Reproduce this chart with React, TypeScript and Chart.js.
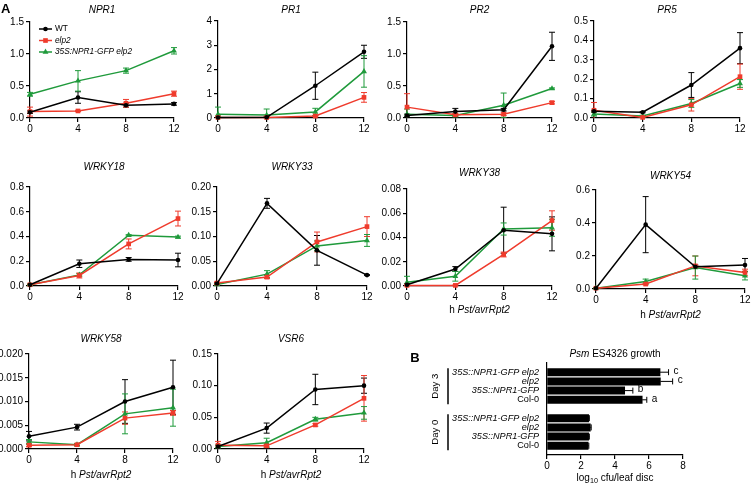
import React, { useEffect, useRef } from "react";
import { Chart, registerables } from "chart.js";
Chart.register(...registerables);

const FONT = '"Liberation Sans", Arial, Helvetica, sans-serif';

// ---------- Panel A data ----------
const HOURS = [0, 4, 8, 12];
const SERIES_LABELS = ["WT", "elp2", "35S:NPR1-GFP elp2"];

const NPR1_WT = [0.09, 0.32, 0.2, 0.22];
const NPR1_WT_ERR = [0.02, 0.09, 0.03, 0.02];
const NPR1_ELP2 = [0.1, 0.11, 0.23, 0.38];
const NPR1_ELP2_ERR = [0.07, 0.01, 0.06, 0.04];
const NPR1_OX = [0.37, 0.58, 0.74, 1.05];
const NPR1_OX_ERR = [0.03, 0.16, 0.04, 0.05];
const NPR1_TICKS = [0, 0.5, 1.0, 1.5];

const PR1_WT = [0.02, 0.03, 1.33, 2.73];
const PR1_WT_ERR = [0.02, 0.02, 0.56, 0.27];
const PR1_ELP2 = [0.02, 0.02, 0.08, 0.85];
const PR1_ELP2_ERR = [0.02, 0.02, 0.03, 0.2];
const PR1_OX = [0.15, 0.12, 0.25, 1.92];
const PR1_OX_ERR = [0.3, 0.25, 0.15, 0.65];
const PR1_TICKS = [0, 1, 2, 3, 4];

const PR2_WT = [0.04, 0.1, 0.13, 1.12];
const PR2_WT_ERR = [0.02, 0.05, 0.02, 0.22];
const PR2_ELP2 = [0.17, 0.05, 0.06, 0.24];
const PR2_ELP2_ERR = [0.21, 0.02, 0.02, 0.02];
const PR2_OX = [0.06, 0.04, 0.2, 0.46];
const PR2_OX_ERR = [0.08, 0.02, 0.19, 0.01];
const PR2_TICKS = [0, 0.5, 1.0, 1.5];

const PR5_WT = [0.035, 0.03, 0.17, 0.36];
const PR5_WT_ERR = [0.005, 0.003, 0.064, 0.08];
const PR5_ELP2 = [0.04, 0.003, 0.068, 0.213];
const PR5_ELP2_ERR = [0.04, 0.003, 0.032, 0.065];
const PR5_OX = [0.02, 0.01, 0.075, 0.178];
const PR5_OX_ERR = [0.01, 0.004, 0.02, 0.02];
const PR5_TICKS = [0, 0.1, 0.2, 0.3, 0.4, 0.5];

const WRKY18_WT = [0.01, 0.18, 0.215, 0.21];
const WRKY18_WT_ERR = [0.005, 0.03, 0.015, 0.055];
const WRKY18_ELP2 = [0.01, 0.085, 0.34, 0.545];
const WRKY18_ELP2_ERR = [0.005, 0.02, 0.04, 0.06];
const WRKY18_OX = [0.01, 0.09, 0.41, 0.395];
const WRKY18_OX_ERR = [0.005, 0.01, 0.005, 0.008];
const WRKY18_TICKS = [0, 0.2, 0.4, 0.6, 0.8];

const WRKY33_WT = [0.005, 0.167, 0.072, 0.022];
const WRKY33_WT_ERR = [0.002, 0.01, 0.03, 0.001];
const WRKY33_ELP2 = [0.006, 0.018, 0.089, 0.12];
const WRKY33_ELP2_ERR = [0.002, 0.003, 0.02, 0.02];
const WRKY33_OX = [0.003, 0.024, 0.081, 0.092];
const WRKY33_OX_ERR = [0.002, 0.007, 0.01, 0.012];
const WRKY33_TICKS = [0, 0.05, 0.1, 0.15, 0.2];

const WRKY38_WT = [0.001, 0.014, 0.046, 0.043];
const WRKY38_WT_ERR = [0.001, 0.002, 0.019, 0.014];
const WRKY38_ELP2 = [0.0005, 0.0005, 0.026, 0.054];
const WRKY38_ELP2_ERR = [0.0003, 0.0003, 0.002, 0.008];
const WRKY38_OX = [0.003, 0.008, 0.047, 0.048];
const WRKY38_OX_ERR = [0.005, 0.004, 0.005, 0.007];
const WRKY38_TICKS = [0, 0.02, 0.04, 0.06, 0.08];

const WRKY54_WT = [0.005, 0.39, 0.135, 0.145];
const WRKY54_WT_ERR = [0.003, 0.17, 0.01, 0.04];
const WRKY54_ELP2 = [0.005, 0.03, 0.14, 0.1];
const WRKY54_ELP2_ERR = [0.003, 0.005, 0.06, 0.02];
const WRKY54_OX = [0.005, 0.045, 0.13, 0.08];
const WRKY54_OX_ERR = [0.003, 0.015, 0.07, 0.025];
const WRKY54_TICKS = [0, 0.2, 0.4, 0.6];

const WRKY58_WT = [0.0027, 0.0046, 0.01, 0.013];
const WRKY58_WT_ERR = [0.001, 0.0006, 0.0046, 0.0057];
const WRKY58_ELP2 = [0.0008, 0.0009, 0.0065, 0.0076];
const WRKY58_ELP2_ERR = [0.0003, 0.0002, 0.0013, 0.0005];
const WRKY58_OX = [0.0015, 0.0009, 0.0074, 0.0087];
const WRKY58_OX_ERR = [0.0005, 0.0002, 0.0042, 0.0039];
const WRKY58_TICKS = [0, 0.005, 0.01, 0.015, 0.02];

const VSR6_WT = [0.004, 0.033, 0.094, 0.1];
const VSR6_WT_ERR = [0.002, 0.008, 0.024, 0.012];
const VSR6_ELP2 = [0.006, 0.005, 0.038, 0.08];
const VSR6_ELP2_ERR = [0.006, 0.002, 0.002, 0.036];
const VSR6_OX = [0.004, 0.01, 0.047, 0.057];
const VSR6_OX_ERR = [0.002, 0.007, 0.003, 0.01];
const VSR6_TICKS = [0, 0.05, 0.1, 0.15];

// ---------- Panel B data ----------
const DAY3_GENOTYPES = ["35S::NPR1-GFP elp2", "elp2", "35S::NPR1-GFP", "Col-0"];
const DAY0_GENOTYPES = ["35S::NPR1-GFP elp2", "elp2", "35S::NPR1-GFP", "Col-0"];
const DAY3_GROWTH = [6.65, 6.67, 4.57, 5.6];
const DAY3_GROWTH_ERR = [0.5, 0.72, 0.48, 0.27];
const DAY3_LETTERS = ["c", "c", "b", "a"];
const DAY0_GROWTH = [2.45, 2.55, 2.45, 2.42];
const DAY0_GROWTH_ERR = [0.04, 0.05, 0.04, 0.04];
const GROWTH_TICKS = [0, 2, 4, 6, 8];

// ---------- styling ----------
const COLORS = ["#000000", "#ef3b2c", "#1f9a3b"];
const POINT_STYLES = ["circle", "rect", "triangle"];
const POINT_RADII = [2.3, 3.3, 3.4];

const PANELS: any[] = [
  { title: "NPR1", ticks: NPR1_TICKS, dec: 1, s: [[NPR1_WT, NPR1_WT_ERR], [NPR1_ELP2, NPR1_ELP2_ERR], [NPR1_OX, NPR1_OX_ERR]] },
  { title: "PR1", ticks: PR1_TICKS, dec: 0, s: [[PR1_WT, PR1_WT_ERR], [PR1_ELP2, PR1_ELP2_ERR], [PR1_OX, PR1_OX_ERR]] },
  { title: "PR2", ticks: PR2_TICKS, dec: 1, s: [[PR2_WT, PR2_WT_ERR], [PR2_ELP2, PR2_ELP2_ERR], [PR2_OX, PR2_OX_ERR]] },
  { title: "PR5", ticks: PR5_TICKS, dec: 1, s: [[PR5_WT, PR5_WT_ERR], [PR5_ELP2, PR5_ELP2_ERR], [PR5_OX, PR5_OX_ERR]] },
  { title: "WRKY18", ticks: WRKY18_TICKS, dec: 1, s: [[WRKY18_WT, WRKY18_WT_ERR], [WRKY18_ELP2, WRKY18_ELP2_ERR], [WRKY18_OX, WRKY18_OX_ERR]] },
  { title: "WRKY33", ticks: WRKY33_TICKS, dec: 2, s: [[WRKY33_WT, WRKY33_WT_ERR], [WRKY33_ELP2, WRKY33_ELP2_ERR], [WRKY33_OX, WRKY33_OX_ERR]] },
  { title: "WRKY38", ticks: WRKY38_TICKS, dec: 2, s: [[WRKY38_WT, WRKY38_WT_ERR], [WRKY38_ELP2, WRKY38_ELP2_ERR], [WRKY38_OX, WRKY38_OX_ERR]] },
  { title: "WRKY54", ticks: WRKY54_TICKS, dec: 1, s: [[WRKY54_WT, WRKY54_WT_ERR], [WRKY54_ELP2, WRKY54_ELP2_ERR], [WRKY54_OX, WRKY54_OX_ERR]] },
  { title: "WRKY58", ticks: WRKY58_TICKS, dec: 3, s: [[WRKY58_WT, WRKY58_WT_ERR], [WRKY58_ELP2, WRKY58_ELP2_ERR], [WRKY58_OX, WRKY58_OX_ERR]] },
  { title: "VSR6", ticks: VSR6_TICKS, dec: 2, s: [[VSR6_WT, VSR6_WT_ERR], [VSR6_ELP2, VSR6_ELP2_ERR], [VSR6_OX, VSR6_OX_ERR]] },
];

// plot-area layout of each panel (page pixels)
const LAYOUT: any[] = [
  { l: 30, t: 22, r: 174, b: 118, titleY: 10 },
  { l: 218, t: 21, r: 364, b: 118, titleY: 10 },
  { l: 407, t: 22, r: 552, b: 118, titleY: 10 },
  { l: 594, t: 21, r: 740, b: 118, titleY: 10 },
  { l: 30, t: 187, r: 178, b: 286, titleY: 167 },
  { l: 217, t: 187, r: 367, b: 286, titleY: 167 },
  { l: 407, t: 189, r: 552, b: 286, titleY: 173, xlabelY: 310 },
  { l: 596, t: 190, r: 745, b: 289, titleY: 176, xlabelY: 315 },
  { l: 29, t: 354, r: 173, b: 449, titleY: 339, xlabelY: 475 },
  { l: 218, t: 354, r: 364, b: 449, titleY: 339, xlabelY: 475 },
];
const BAR_AREA = { l: 547, t: 363, r: 683, b: 455 };
const BAR_BOX = { x: 400, y: 342, w: 351, h: 144 };

function boxFor(a: any) {
  const x = a.l - 34;
  const y = a.titleY - 10;
  const w = a.r + 10 - x;
  const h = (a.xlabelY ? a.xlabelY + 9 : a.b + 20) - y;
  return { x, y, w, h };
}

// ---------- drawing helpers ----------
function fontStr(seg: any, size: number) {
  return `${seg.it ? "italic " : ""}${seg.bold ? "bold " : ""}${seg.sub ? size * 0.72 : size}px ${FONT}`;
}
function drawRich(ctx: any, item: any, x: number, y: number) {
  const size = item.size;
  const widths = item.segs.map((s: any) => {
    ctx.font = fontStr(s, size);
    return ctx.measureText(s.t).width;
  });
  const total = widths.reduce((a: number, b: number) => a + b, 0);
  let start = item.align === "left" ? 0 : item.align === "right" ? -total : -total / 2;
  ctx.save();
  ctx.translate(x, y);
  if (item.rot) ctx.rotate(-Math.PI / 2);
  ctx.textBaseline = "middle";
  ctx.textAlign = "left";
  ctx.fillStyle = "#000";
  item.segs.forEach((s: any, i: number) => {
    ctx.font = fontStr(s, size);
    ctx.fillText(s.t, start, s.sub ? size * 0.32 : 0);
    start += widths[i];
  });
  ctx.restore();
}
function textPlugin(items: any[], area: any) {
  return {
    id: "richText",
    afterDraw(chart: any) {
      const ca = chart.chartArea;
      items.forEach((it) => {
        const x = it.cx ? (ca.left + ca.right) / 2 : ca.left + (it.x - area.l);
        const y = ca.top + (it.y - area.t);
        drawRich(chart.ctx, it, x, y);
      });
    },
  };
}
function drawMarker(ctx: any, style: string, x: number, y: number, r: number) {
  ctx.beginPath();
  if (style === "circle") {
    ctx.arc(x, y, r, 0, Math.PI * 2);
  } else if (style === "rect") {
    const s = r * Math.SQRT1_2;
    ctx.rect(x - s, y - s, 2 * s, 2 * s);
  } else {
    let rad = 0;
    ctx.moveTo(x + Math.sin(rad) * r, y - Math.cos(rad) * r);
    rad += (2 * Math.PI) / 3;
    ctx.lineTo(x + Math.sin(rad) * r, y - Math.cos(rad) * r);
    rad += (2 * Math.PI) / 3;
    ctx.lineTo(x + Math.sin(rad) * r, y - Math.cos(rad) * r);
    ctx.closePath();
  }
  ctx.fill();
}
const lineErrorPlugin = {
  id: "lineErrors",
  beforeDatasetsDraw(chart: any) {
    const { ctx, scales } = chart;
    const xs = scales.x, ys = scales.y;
    chart.data.datasets.forEach((ds: any) => {
      if (!ds.errors) return;
      ctx.save();
      ctx.strokeStyle = ds.borderColor;
      ctx.lineWidth = 1;
      ds.data.forEach((pt: any, i: number) => {
        const e = ds.errors[i];
        if (!e) return;
        const px = xs.getPixelForValue(pt.x);
        const yHi = ys.getPixelForValue(pt.y + e);
        const yLo = ys.getPixelForValue(Math.max(pt.y - e, ys.min));
        ctx.beginPath();
        ctx.moveTo(px, yHi);
        ctx.lineTo(px, yLo);
        ctx.moveTo(px - 3, yHi);
        ctx.lineTo(px + 3, yHi);
        if (pt.y - e > ys.min) {
          ctx.moveTo(px - 3, yLo);
          ctx.lineTo(px + 3, yLo);
        }
        ctx.stroke();
      });
      ctx.restore();
    });
  },
};
function legendPlugin() {
  return {
    id: "seriesLegend",
    afterDraw(chart: any) {
      const { ctx, chartArea: ca } = chart;
      SERIES_LABELS.forEach((lab, k) => {
        const y = ca.top + 7 + k * 11.5;
        ctx.save();
        ctx.strokeStyle = COLORS[k];
        ctx.fillStyle = COLORS[k];
        ctx.lineWidth = 1.5;
        ctx.beginPath();
        ctx.moveTo(ca.left + 9, y);
        ctx.lineTo(ca.left + 22, y);
        ctx.stroke();
        drawMarker(ctx, POINT_STYLES[k], ca.left + 15.5, y, POINT_RADII[k]);
        ctx.restore();
        drawRich(ctx, { segs: [{ t: lab, it: k > 0 }], size: 8.3, align: "left" }, ca.left + 25, y);
      });
    },
  };
}

function makeLineChart(canvas: HTMLCanvasElement, p: any, a: any, box: any, idx: number) {
  const padTop = a.t - box.y;
  const padRight = box.x + box.w - a.r;
  const yW = a.l - box.x;
  const xH = box.y + box.h - a.b;
  const datasets = p.s.map((pair: any, k: number) => ({
    label: SERIES_LABELS[k],
    data: HOURS.map((h, i) => ({ x: h, y: pair[0][i] })),
    errors: pair[1],
    borderColor: COLORS[k],
    backgroundColor: COLORS[k],
    pointBackgroundColor: COLORS[k],
    pointBorderColor: COLORS[k],
    pointBorderWidth: 0,
    pointStyle: POINT_STYLES[k],
    pointRadius: POINT_RADII[k],
    borderWidth: 1.5,
    tension: 0,
    clip: false,
  }));
  const texts: any[] = [{ segs: [{ t: p.title, it: true }], size: 10, cx: true, y: a.titleY }];
  if (a.xlabelY) {
    texts.push({ segs: [{ t: "h " }, { t: "Pst/avrRpt2", it: true }], size: 10, cx: true, y: a.xlabelY });
  }
  if (idx === 0) texts.push({ segs: [{ t: "A", bold: true }], size: 13, align: "left", x: 1, y: 9 });
  const plugins: any[] = [lineErrorPlugin, textPlugin(texts, a)];
  if (idx === 0) plugins.push(legendPlugin());
  const tickFont = { family: FONT, size: 10 };
  const axisCommon = {
    grid: { drawOnChartArea: false, drawTicks: true, tickLength: 4, color: "#000", lineWidth: 1.2 },
    border: { display: true, color: "#000", width: 1.2 },
  };
  return new Chart(canvas, {
    type: "line",
    data: { datasets },
    plugins,
    options: {
      animation: false,
      responsive: false,
      devicePixelRatio: 1,
      events: [],
      layout: { padding: { left: 0, top: padTop, right: padRight, bottom: 0 } },
      plugins: { legend: { display: false }, tooltip: { enabled: false }, title: { display: false } },
      scales: {
        x: {
          type: "linear",
          min: HOURS[0],
          max: HOURS[HOURS.length - 1],
          afterBuildTicks: (s: any) => { s.ticks = HOURS.map((v) => ({ value: v })); },
          afterFit: (s: any) => { s.height = xH; },
          ticks: { font: tickFont, color: "#000", padding: 1, maxRotation: 0, autoSkip: false, callback: (v: any) => String(v) },
          ...axisCommon,
        },
        y: {
          type: "linear",
          min: p.ticks[0],
          max: p.ticks[p.ticks.length - 1],
          afterBuildTicks: (s: any) => { s.ticks = p.ticks.map((v: number) => ({ value: v })); },
          afterFit: (s: any) => { s.width = yW; },
          ticks: { font: tickFont, color: "#000", padding: 2, autoSkip: false, callback: (v: any) => Number(v).toFixed(p.dec) },
          ...axisCommon,
        },
      },
    } as any,
  } as any);
}

function makeBarChart(canvas: HTMLCanvasElement) {
  const a = BAR_AREA, box = BAR_BOX;
  const categories = ["", ...DAY3_GENOTYPES, "", ...DAY0_GENOTYPES, ""];
  const values = [null, ...DAY3_GROWTH, null, ...DAY0_GROWTH, null];
  const errors = [null, ...DAY3_GROWTH_ERR, null, ...DAY0_GROWTH_ERR, null];
  const letters = ["", ...DAY3_LETTERS, "", "", "", "", "", ""];
  const groups = [
    { label: "Day 3", from: 1, to: DAY3_GENOTYPES.length },
    { label: "Day 0", from: DAY3_GENOTYPES.length + 2, to: DAY3_GENOTYPES.length + 1 + DAY0_GENOTYPES.length },
  ];
  const padTop = a.t - box.y;
  const padRight = box.x + box.w - a.r;
  const yW = a.l - box.x;
  const xH = box.y + box.h - a.b;
  const barPlugin = {
    id: "barExtras",
    afterDatasetsDraw(chart: any) {
      const { ctx, scales, chartArea: ca } = chart;
      const xs = scales.x, ys = scales.y;
      ctx.save();
      ctx.strokeStyle = "#000";
      ctx.lineWidth = 1;
      values.forEach((v, i) => {
        if (v == null) return;
        const e = errors[i] || 0;
        const py = ys.getPixelForValue(i);
        const x0 = xs.getPixelForValue(v);
        const x1 = xs.getPixelForValue(v + e);
        ctx.beginPath();
        ctx.moveTo(x0, py);
        ctx.lineTo(x1, py);
        ctx.moveTo(x1, py - 3);
        ctx.lineTo(x1, py + 3);
        ctx.stroke();
        if (letters[i]) {
          drawRich(ctx, { segs: [{ t: letters[i] }], size: 10, align: "left" }, x1 + 5, py - 1);
        }
      });
      ctx.lineWidth = 1.5;
      groups.forEach((g) => {
        const y1 = ys.getPixelForValue(g.from) - 4;
        const y2 = ys.getPixelForValue(g.to) + 4.5;
        const lx = ca.left - 99;
        ctx.beginPath();
        ctx.moveTo(lx, y1);
        ctx.lineTo(lx, y2);
        ctx.stroke();
        drawRich(ctx, { segs: [{ t: g.label }], size: 9.6, rot: true }, ca.left - 112, (y1 + y2) / 2);
      });
      ctx.restore();
    },
  };
  const texts = [
    { segs: [{ t: "Psm", it: true }, { t: " ES4326 growth" }], size: 10, cx: true, y: 354 },
    { segs: [{ t: "log" }, { t: "10", sub: true }, { t: " cfu/leaf disc" }], size: 10, cx: true, y: 478 },
    { segs: [{ t: "B", bold: true }], size: 13, x: 415, y: 358 },
  ];
  return new Chart(canvas, {
    type: "bar",
    data: {
      labels: categories,
      datasets: [{ data: values, backgroundColor: "#000", borderWidth: 0, barThickness: 7.3 }],
    },
    plugins: [barPlugin, textPlugin(texts, a)],
    options: {
      indexAxis: "y",
      animation: false,
      responsive: false,
      devicePixelRatio: 1,
      events: [],
      layout: { padding: { left: 0, top: padTop, right: padRight, bottom: 0 } },
      plugins: { legend: { display: false }, tooltip: { enabled: false }, title: { display: false } },
      scales: {
        x: {
          type: "linear",
          min: GROWTH_TICKS[0],
          max: GROWTH_TICKS[GROWTH_TICKS.length - 1],
          afterBuildTicks: (s: any) => { s.ticks = GROWTH_TICKS.map((v) => ({ value: v })); },
          afterFit: (s: any) => { s.height = xH; },
          ticks: { font: { family: FONT, size: 10 }, color: "#000", padding: 1, maxRotation: 0, autoSkip: false },
          grid: { drawOnChartArea: false, drawTicks: true, tickLength: 4, color: "#000", lineWidth: 1.2 },
          border: { display: true, color: "#000", width: 1.2 },
        },
        y: {
          type: "category",
          offset: false,
          afterFit: (s: any) => { s.width = yW; },
          ticks: {
            autoSkip: false,
            color: "#000",
            padding: 8,
            font: (c: any) => ({
              family: FONT,
              size: 9.1,
              style: c.tick && c.tick.label === "Col-0" ? "normal" : "italic",
            }),
          },
          grid: { display: false, drawTicks: false },
          border: { display: true, color: "#000", width: 1.2 },
        },
      },
    } as any,
  } as any);
}

export default function App() {
  const refs = useRef<(HTMLCanvasElement | null)[]>([]);
  const boxes = LAYOUT.map(boxFor);
  useEffect(() => {
    const charts: any[] = [];
    PANELS.forEach((p, i) => {
      const c = refs.current[i];
      if (c) charts.push(makeLineChart(c, p, LAYOUT[i], boxes[i], i));
    });
    const bc = refs.current[PANELS.length];
    if (bc) charts.push(makeBarChart(bc));
    return () => charts.forEach((c) => c.destroy());
  }, []);
  const all = [...boxes, BAR_BOX];
  return (
    <div style={{ position: "absolute", left: 0, top: 0, width: 751, height: 486, background: "#fff", overflow: "hidden" }}>
      {all.map((b, i) => (
        <canvas
          key={i}
          ref={(el) => { refs.current[i] = el; }}
          width={b.w}
          height={b.h}
          style={{ position: "absolute", left: b.x, top: b.y, width: b.w, height: b.h }}
        />
      ))}
    </div>
  );
}
